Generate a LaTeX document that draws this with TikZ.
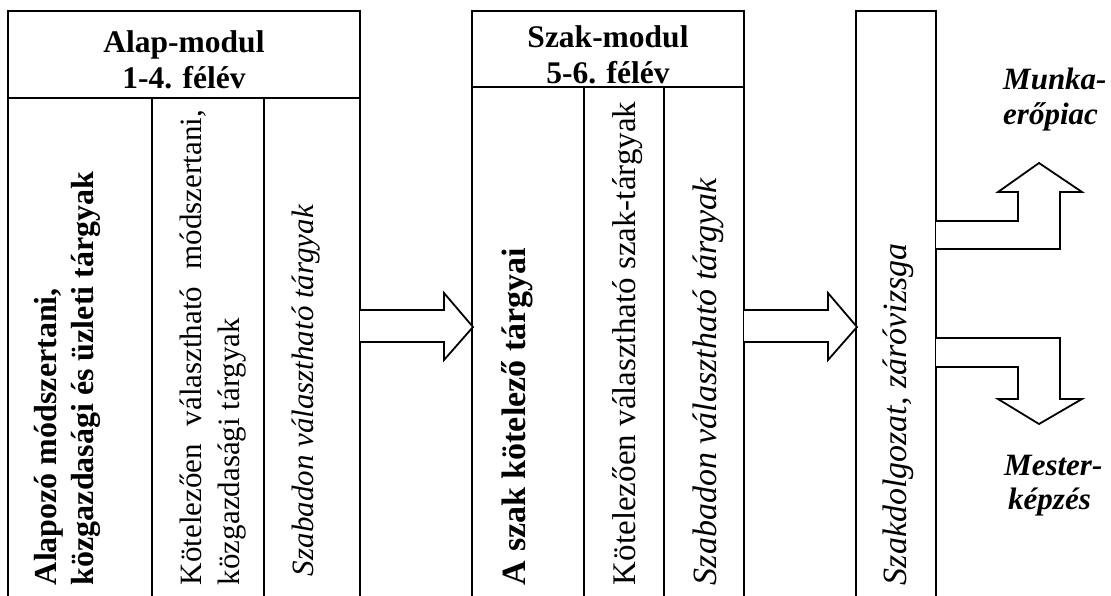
\documentclass[tikz,border=0pt]{standalone}
\usepackage{fontspec}
\setmainfont{Liberation Serif}
\begin{document}
\begin{tikzpicture}[x=1pt,y=-1pt,
  frame/.style={draw=black, line width=1.8pt, line join=miter},
  blockarrow/.style={draw=black, fill=white, line width=1.8pt, line join=miter},
  hdr/.style={font=\fontsize{31.5}{36}\selectfont\bfseries, anchor=base, inner sep=0pt},
  rot/.style={rotate=90, anchor=base west, inner sep=0pt, outer sep=0pt},
  alapfont/.style={font=\fontsize{31}{36}\selectfont},
  alapbold/.style={font=\fontsize{32}{36}\selectfont\bfseries},
  alapital/.style={font=\fontsize{31}{36}\selectfont\itshape},
  szakbold/.style={font=\fontsize{34}{40}\selectfont\bfseries},
  szakfont/.style={font=\fontsize{33}{40}\selectfont},
  szakital/.style={font=\fontsize{34}{40}\selectfont\itshape},
  outtext/.style={anchor=base west, inner sep=0pt, font=\fontsize{31}{36}\selectfont\bfseries\itshape}]
\useasboundingbox (0,0) rectangle (1111,595);
\clip (0,0) rectangle (1111,595);
% module frames (open at the bottom)
\coordinate (alapNW) at (8,11);
\coordinate (alapNE) at (360,11);
\coordinate (szakNW) at (472,11);
\coordinate (szakNE) at (744,11);
\coordinate (sdNW) at (856,11);
\coordinate (sdNE) at (936,11);
\draw[frame] (8,610) -- (alapNW) -- (alapNE) -- (360,610);
\draw[frame] (8,98) -- (360,98);
\draw[frame] (152,98) -- (152,610);
\draw[frame] (264,98) -- (264,610);
\draw[frame] (472,610) -- (szakNW) -- (szakNE) -- (744,610);
\draw[frame] (472,87) -- (744,87);
\draw[frame] (584,87) -- (584,610);
\draw[frame] (664,87) -- (664,610);
\draw[frame] (856,610) -- (sdNW) -- (sdNE) -- (936,610);
% headers
\node[hdr] (h1a) at (184,52) {Alap-modul};
\node[hdr] (h1b) at (184,88) {1-4. félév};
\node[hdr] (h2a) at (608,47) {Szak-modul};
\node[hdr] (h2b) at (608,83) {5-6. félév};
% rotated column texts
\node[rot, alapbold] (a1a) at (56,585) {Alapozó módszertani,};
\node[rot, alapbold] (a1b) at (93,585) {közgazdasági és üzleti tárgyak};
\node[rot, alapfont] (a2a) at (201,585) {\hbox to 475pt{Kötelezően\hfill választható\hfill módszertani,}};
\node[rot, alapfont] (a2b) at (239,585) {közgazdasági tárgyak};
\node[rot, alapital] (a3) at (313,576) {Szabadon választható tárgyak};
\node[rot, szakbold] (s1) at (525,585) {A szak kötelező tárgyai};
\node[rot, szakfont] (s2) at (635,585) {Kötelezően választható szak-tárgyak};
\node[rot, szakital] (s3) at (716,585) {Szabadon választható tárgyak};
\node[rot, szakital] (sd) at (906,585) {Szakdolgozat, záróvizsga};
% block arrows
\draw[blockarrow] (360,310) -- (444,310) -- (444,293) -- (473,327) -- (444,360) -- (444,342) -- (360,342);
\draw[blockarrow] (744,310) -- (828,310) -- (828,293) -- (857,327) -- (828,360) -- (828,342) -- (744,342);
\draw[blockarrow] (936,221) -- (1018,221) -- (1018,192) -- (998,192) -- (1039,163) -- (1082,192) -- (1060,192) -- (1060,249) -- (936,249);
\draw[blockarrow] (936,338) -- (1060,338) -- (1060,399) -- (1082,399) -- (1039,424) -- (998,399) -- (1018,399) -- (1018,367) -- (936,367);
% outputs
\node[outtext] (m1) at (1003,89) {Munka-};
\node[outtext] (m2) at (1003,124) {erőpiac};
\node[outtext] (k1) at (1004,475) {Mester-};
\node[outtext] (k2) at (1008,509) {képzés};
\end{tikzpicture}
\end{document}
